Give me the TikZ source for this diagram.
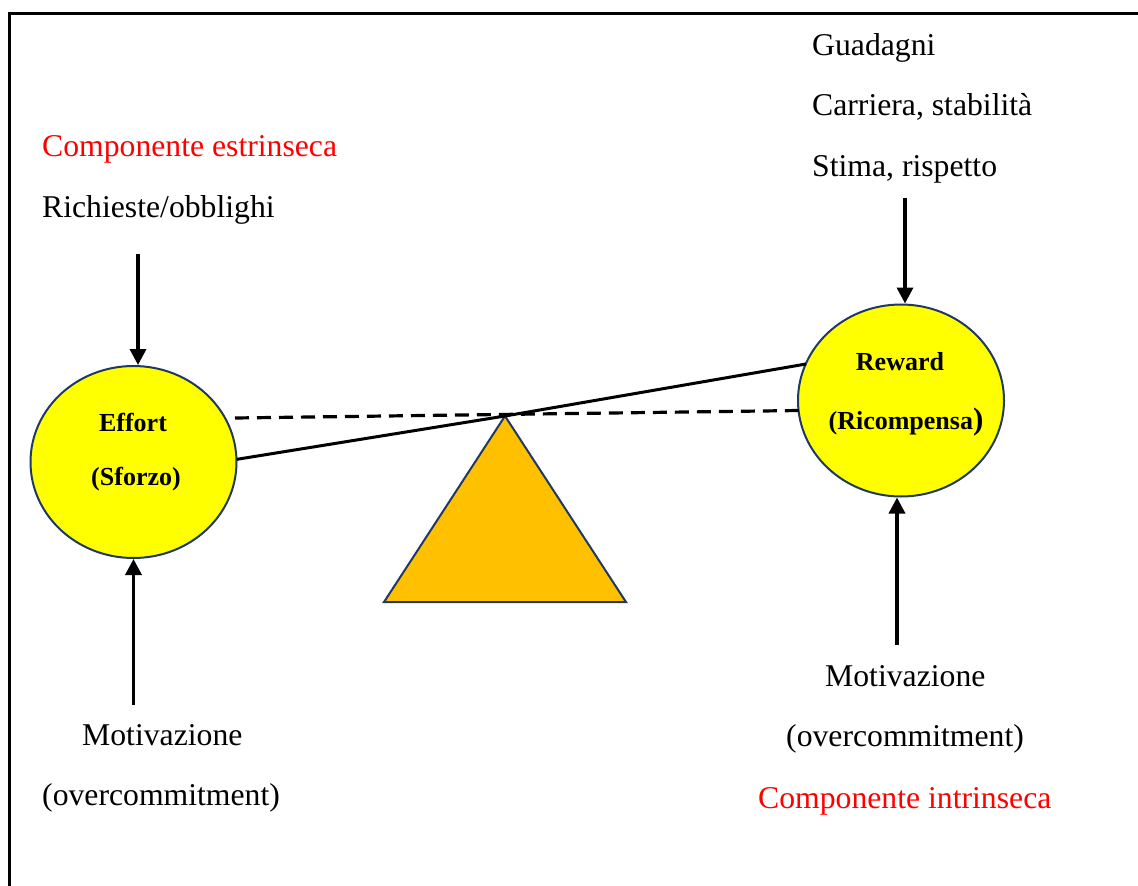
\documentclass[tikz,border=0pt]{standalone}
\usepackage{fontspec}
\setmainfont{Liberation Serif}
\usetikzlibrary{arrows.meta,shapes.geometric}
\definecolor{navy}{HTML}{1F3864}
\definecolor{sun}{HTML}{FFFF00}
\definecolor{amber}{HTML}{FFC000}
\definecolor{redtxt}{HTML}{FF0000}
\tikzset{
  label/.style={anchor=base west,inner sep=0pt,font=\fontsize{31.7}{36}\selectfont},
  redlabel/.style={label,text=redtxt},
  inner/.style={anchor=base,inner sep=0pt,font=\fontsize{26}{30}\selectfont\bfseries},
  pan/.style={ellipse,draw=navy,line width=2pt,fill=sun,minimum width=206pt,minimum height=192pt,inner sep=0pt},
  push/.style={line width=3.5pt,-{Triangle[length=16pt,width=16pt]}},
  beam/.style={line width=3pt},
  level/.style={line width=3.2pt,dash pattern=on 14pt off 8pt},
}
\begin{document}
\begin{tikzpicture}[x=1pt,y=-1pt]
\useasboundingbox (0,0) rectangle (1138,886);
% frame
\draw[line width=3pt] (9.5,886) -- (9.5,13) -- (1138,13);

% fulcrum
\coordinate (apex) at (505,416);
\filldraw[draw=navy,fill=amber,line width=2pt,line join=miter] (apex) -- (626,602) -- (384,602) -- cycle;

% pans
\node[pan] (E) at (133.5,462) {};
\node[pan] (R) at (901,400.5) {};

% balance lines
\coordinate (levL) at (235,418);
\coordinate (levR) at (799,410.5);
\draw[level] (levL) -- (levR);
\coordinate (beamL) at (237,459.3);
\coordinate (beamR) at (806,364);
\draw[beam] (beamL) -- (apex) -- (beamR);

% pan texts
\node[inner] (t1) at (133,431) {Effort};
\node[inner] (t2) at (136,485) {(Sforzo)};
\node[inner] (t3) at (900,370) {Reward};
\node[inner] (t4) at (906,429) {(Ricompensa\fontsize{31}{34}\selectfont)};

% left side
\node[redlabel] (ce) at (42,156) {Componente estrinseca};
\node[label] (ro) at (42,217) {Richieste/obblighi};
\node[label] (m1) at (82,745) {Motivazione};
\node[label] (o1) at (42,805) {(overcommitment)};

% right side
\node[label] (g) at (812,55) {Guadagni};
\node[label] (cs) at (812,115) {Carriera, stabilità};
\node[label] (sr) at (812,176) {Stima, rispetto};
\node[label] (m2) at (825,686) {Motivazione};
\node[label] (o2) at (786,746) {(overcommitment)};
\node[redlabel] (ci) at (758,808) {Componente intrinseca};

% arrows
\coordinate (a1) at (138,254);
\coordinate (a2) at (133.5,705);
\coordinate (a3) at (905,198);
\coordinate (a4) at (897,645);
\draw[push] (a1) -- (a1 |- E.north);
\draw[push] (a2) -- (E.south);
\draw[push] (a3) -- (a3 |- R.north);
\draw[push] (a4) -- (a4 |- R.south);
\end{tikzpicture}
\end{document}
